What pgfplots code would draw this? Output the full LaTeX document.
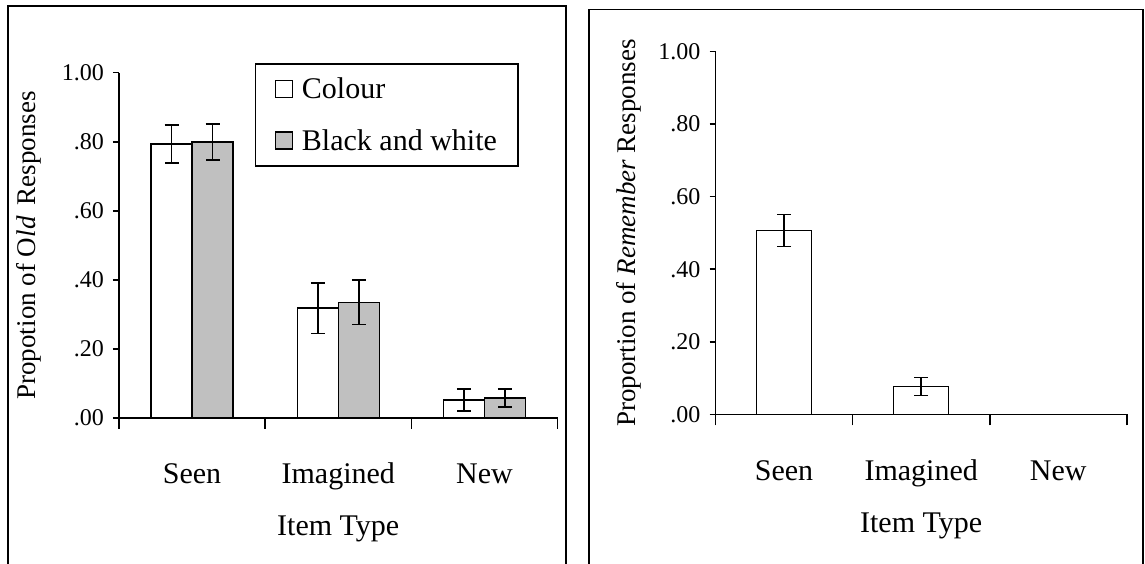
\documentclass[border=0pt]{standalone}
\usepackage{fontspec}
\setmainfont{Liberation Serif}
\usepackage{pgfplots}
\pgfplotsset{compat=1.18}
\pgfplotsset{
 mystyle/.style={
  scale only axis, anchor=south west,
  axis x line=bottom, axis y line=left, axis line style={-, line width=1.6pt},
  ymin=0, ymax=1, xmin=0.5, xmax=3.5,
  ytick={0,0.2,0.4,0.6,0.8,1}, yticklabels={.00,.20,.40,.60,.80,1.00},
  tick align=outside, major tick length=6pt,
  tick style={line width=1.6pt, black},
  xtick={1,2,3}, xticklabels={Seen,Imagined,New},
  xtick style={draw=none},
  extra x ticks={0.5,1.5,2.5,3.5}, extra x tick labels={},
  extra x tick style={major tick length=11pt, xtick style={draw=black}},
  yticklabel style={font=\fontsize{24}{28}\selectfont, anchor=east, inner sep=0pt, xshift=-9pt},
  xticklabel style={font=\fontsize{30}{36}\selectfont, anchor=base, yshift=-60pt},
  ylabel style={font=\fontsize{27}{32}\selectfont, at={(axis description cs:0,0.5)}, anchor=center},
  xlabel style={font=\fontsize{30}{36}\selectfont, at={(axis description cs:0.5,0)}, anchor=base, yshift=-118pt},
  /pgf/number format/assume math mode=true,
  error bars/y dir=both, error bars/y explicit,
  error bars/error bar style={line width=1.5pt, black},
  error bars/error mark options={rotate=90, mark size=7pt, line width=1.5pt, black},
 }
}
\begin{document}
\begin{tikzpicture}[x=1pt,y=1pt]
\path[use as bounding box] (0,0) rectangle (1145,564);
\draw[line width=1.8pt] (8,-10) -- (8,558) -- (566,558) -- (566,-10);
\draw[line width=1.8pt] (589,-10) -- (589,554.5) -- (1143,554.5) -- (1143,-10);

\begin{axis}[mystyle, at={(119pt,146pt)}, width=438.5pt, height=345.3pt,
  ybar=0pt, bar width=41pt,
  legend image code/.code={\draw[#1, draw=black, line width=1.3pt] (0pt,-8.5pt) rectangle (17pt,8.5pt);},
  legend style={at={(axis description cs:0.310,1.027)}, anchor=north west, draw=black, line width=1.5pt,
    font=\fontsize{30}{36}\selectfont, inner xsep=19pt, inner ysep=12pt, row sep=25pt,
    nodes={inner sep=2pt},
    /tikz/every odd column/.append style={column sep=7pt}},
  legend cell align=left,
  ylabel style={yshift=90pt},
  ylabel={Propotion of O\textit{ld}\ \,Responses}, xlabel={Item Type}]
\addplot[fill=white, draw=black, line width=1.5pt] coordinates {
  (1,0.794) +- (0,0.055)
  (2,0.318) +- (0,0.073)
  (3,0.052) +- (0,0.032)
};
\addplot[fill={rgb,255:red,192;green,192;blue,192}, draw=black, line width=1.5pt] coordinates {
  (1,0.799) +- (0,0.052)
  (2,0.335) +- (0,0.064)
  (3,0.058) +- (0,0.026)
};
\legend{Colour, Black and white}
\end{axis}

\begin{axis}[mystyle, at={(715.5pt,149.5pt)}, width=411.3pt, height=363pt,
  ybar=0pt, bar width=55pt,
  ylabel style={yshift=87pt},
  ylabel={Proportion of \textit{Remember} Responses}, xlabel={Item Type}]
\addplot[fill=white, draw=black, line width=1.5pt] coordinates {
  (1,0.507) +- (0,0.044)
  (2,0.077) +- (0,0.025)
  (3,0.0) +- (0,0.0)
};
\end{axis}
\end{tikzpicture}
\end{document}
